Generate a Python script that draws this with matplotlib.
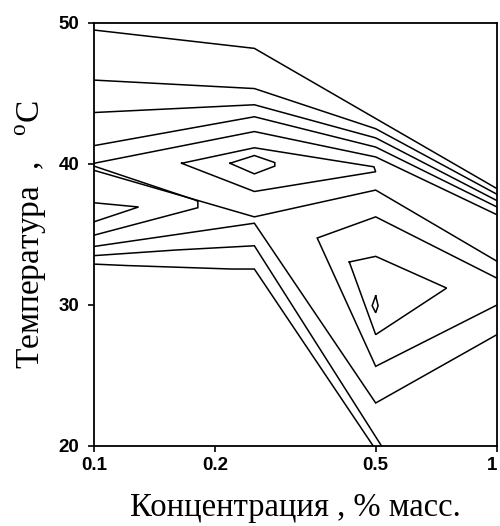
import matplotlib
matplotlib.use("Agg")
import matplotlib.pyplot as plt

# isolines, vertices as (concentration %, temperature C)
iso1 = [(0.1, 49.5), (0.25, 48.2), (1.0, 38.25)]
iso2 = [(0.1, 45.95), (0.25, 45.35), (0.5, 42.5), (1.0, 37.85)]
iso3 = [(0.1, 43.65), (0.25, 44.2), (0.5, 41.85), (1.0, 37.4)]
iso4 = [(0.1, 41.3), (0.25, 43.35), (0.5, 41.2), (1.0, 36.95)]
iso5 = [(0.1, 40.05), (0.25, 42.3), (0.5, 40.5), (1.0, 36.4)]
iso6 = [(0.1, 39.55), (0.25, 36.25), (0.5, 38.15), (1.0, 33.1)]
iso7 = [(0.1, 34.15), (0.25, 35.8), (0.5, 23.05), (1.0, 27.9)]
iso8 = [(0.1, 33.5), (0.16, 33.9), (0.25, 34.2), (0.517, 20.0)]
iso9 = [(0.1, 32.9), (0.12, 32.8), (0.22, 32.55), (0.25, 32.55), (0.493, 20.0)]

# closed / folded ones
big_diamond = [(0.165, 40.05), (0.25, 41.15), (0.495, 39.8), (0.5, 39.45),
               (0.25, 38.05), (0.165, 40.05)]
small_diamond = [(0.2175, 40.05), (0.25, 40.6), (0.281, 40.1), (0.281, 39.85),
                 (0.25, 39.3), (0.2175, 40.05)]
left_wedge = [(0.1, 39.85), (0.178, 37.45), (0.181, 37.35), (0.181, 36.9),
              (0.1, 34.95)]
left_tip = [(0.1, 37.25), (0.129, 36.95), (0.1, 35.9)]
right_fold = [(1.0, 31.9), (0.5, 36.25), (0.358, 34.75), (0.5, 25.65), (1.0, 30.0)]
triangle = [(0.43, 33.05), (0.5, 33.45), (0.75, 31.2), (0.5, 27.9), (0.43, 33.05)]
dot = [(0.5, 30.65), (0.507, 29.95), (0.5, 29.45), (0.49, 29.95), (0.5, 30.65)]

isolines = [iso1, iso2, iso3, iso4, iso5, iso6, iso7, iso8, iso9,
            big_diamond, small_diamond, left_wedge, left_tip,
            right_fold, triangle, dot]

xticks = [0.1, 0.2, 0.5, 1]
xticklabels = ["0.1", "0.2", "0.5", "1"]
yticks = [20, 30, 40, 50]

plt.rcParams['mathtext.fontset'] = 'custom'
plt.rcParams['mathtext.rm'] = 'Liberation Serif'

fig = plt.figure(figsize=(5, 5.26), dpi=100)
ax = fig.add_axes([0.188, 0.1521, 0.806, 0.8042])

for line in isolines:
    xs, ys = zip(*line)
    ax.plot(xs, ys, color='black', lw=1.1, solid_joinstyle='miter')

ax.set_xscale('log')
ax.set_xlim(0.1, 1)
ax.set_ylim(20, 50)
ax.set_xticks(xticks)
ax.set_xticklabels(xticklabels)
ax.minorticks_off()
ax.set_yticks(yticks)

for lab in ax.get_xticklabels() + ax.get_yticklabels():
    lab.set_fontfamily('Liberation Sans')
    lab.set_fontweight('bold')
    lab.set_fontsize(13.5)
# the last label sits on the figure edge, keep it inside
ax.get_xticklabels()[-1].set_horizontalalignment('right')

ax.tick_params(direction='out', length=4, width=1.2, pad=4)
ax.tick_params(axis='y', pad=6.5)
for s in ax.spines.values():
    s.set_linewidth(1.3)

ax.set_xlabel("Концентрация , % масс.", family='Liberation Serif',
              fontsize=23.5, labelpad=13)
ax.set_ylabel(r"Температура  ,   $^{\mathrm{o}}$C", family='Liberation Serif',
              fontsize=24, labelpad=7)

fig.savefig("out.png", dpi=100)
